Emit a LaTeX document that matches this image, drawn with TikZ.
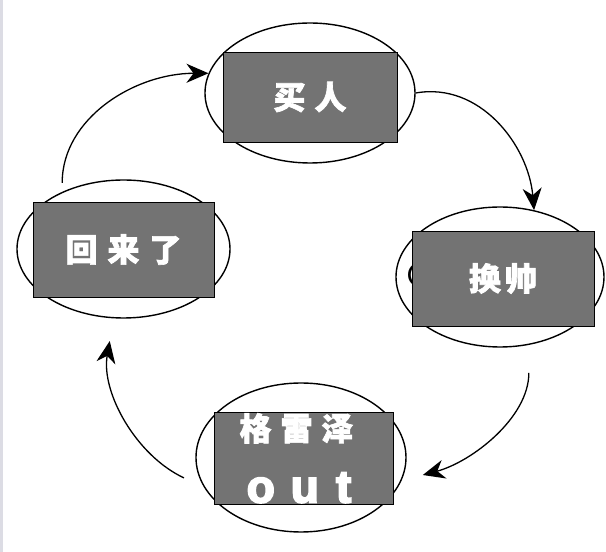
\documentclass[tikz,border=0pt]{standalone}
\usepackage{fontspec}
\newfontfamily\cjk{Noto Sans CJK SC}[BoldFeatures={FakeBold=2}]
\newfontfamily\latn{Liberation Sans}[BoldFeatures={FakeBold=4}]
\usetikzlibrary{shapes.geometric, arrows.meta}
\definecolor{boxgray}{RGB}{115,115,115}
\definecolor{edgegray}{RGB}{220,220,228}
\begin{document}
\begin{tikzpicture}[x=1pt, y=1pt,
    ring/.style={draw, line width=1.4pt, ellipse, inner sep=0pt},
    card/.style={draw, line width=0.8pt, fill=boxgray, text=white, inner sep=0pt,
        font={\cjk\bfseries\fontsize{32}{38}\selectfont}},
    flow/.style={line width=1.3pt, arrows={-Stealth[length=22pt, width=19pt, inset=7pt]}}]
    \useasboundingbox (0,0) rectangle (606,552);
    \fill[edgegray] (0,0) rectangle (2.5,552);

    \node[ring, minimum width=210pt, minimum height=140pt] (mai) at (310,459) {};
    \node[ring, minimum width=208pt, minimum height=140pt] (huan) at (500,275) {};
    \node[ring, minimum width=210pt, minimum height=149pt] (gelei) at (301,94.5) {};
    \node[ring, minimum width=213pt, minimum height=138pt] (hui) at (123.5,303) {};

    \node[anchor=west, font={\sffamily\fontsize{33}{38}\selectfont}] (hid) at (403,277) {C};

    \draw[flow, shorten <=9pt] (hui.137) to[out=90, in=180] (mai.169);
    \draw[flow] (mai.east) to[out=10, in=95] (huan.63);
    \draw[flow, shorten <=28pt, shorten >=22pt] (huan.-67) to[out=-90, in=15] (gelei.-13);
    \draw[flow, shorten <=22pt, shorten >=23pt] (gelei.-163) to[out=155, in=-100] (hui.-98);

    \node[card, minimum width=174pt, minimum height=90pt] (maibox) at (310,455) {买\hspace{9pt}人};
    \node[card, minimum width=182pt, minimum height=95pt] (huanbox) at (503,273.5) {\raisebox{3pt}{换\hspace{4pt}帅}};
    \node[card, minimum width=181pt, minimum height=95pt] (huibox) at (123.5,302.5) {\raisebox{3pt}{回\hspace{10pt}来\hspace{10pt}了}};
    \node[card, align=center, minimum width=179pt, minimum height=92pt] (geleibox) at (303.5,94)
        {格\hspace{9pt}雷\hspace{9pt}泽\hspace*{14pt}\\[24pt]{\latn\bfseries\fontsize{46}{50}\selectfont o\hspace{16pt}u\hspace{17pt}t}\hspace*{9pt}};
\end{tikzpicture}
\end{document}
